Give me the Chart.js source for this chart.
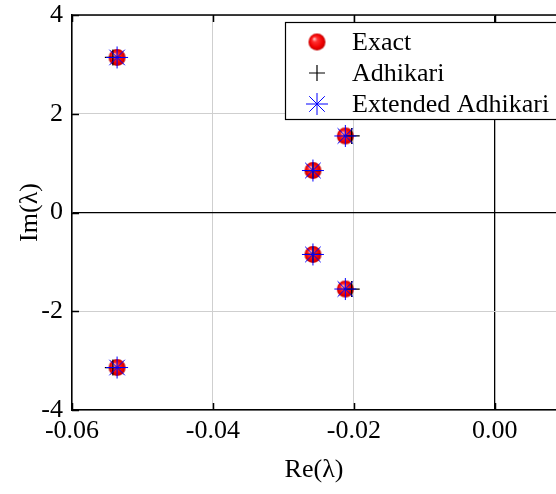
<!DOCTYPE html>
<html>
<head>
<meta charset="utf-8">
<script src="https://cdn.jsdelivr.net/npm/chart.js@4/dist/chart.umd.min.js"></script>
<style>
  html, body { margin: 0; padding: 0; background: #fff; }
  canvas { display: block; }
</style>
</head>
<body>
<canvas id="eig" width="556" height="494"></canvas>
<script>
// Eigenvalue locations (real and imaginary parts)
const exactRe    = [-0.0536, -0.0536, -0.0258, -0.0258, -0.0212, -0.0212];
const exactIm    = [3.14, -3.14, 0.85, -0.85, 1.55, -1.55];
const adhikariRe = [-0.0542, -0.0542, -0.0258, -0.0258, -0.0203, -0.0203];
const adhikariIm = [3.14, -3.14, 0.85, -0.85, 1.55, -1.55];
const extendedRe = [-0.0536, -0.0536, -0.0258, -0.0258, -0.0212, -0.0212];
const extendedIm = [3.14, -3.14, 0.85, -0.85, 1.55, -1.55];

const seriesNames = ['Exact', 'Adhikari', 'Extended Adhikari'];
const xTickValues = [-0.06, -0.04, -0.02, 0.00];
const yTickValues = [-4, -2, 0, 2, 4];
const xRange = [-0.06, 0.0087];
const yRange = [-4, 4];

const FONT = "'Liberation Serif', 'Times New Roman', serif";
const FSIZE = 26;

function pts(xs, ys) { return xs.map((x, i) => ({ x: x, y: ys[i] })); }

// Shaded red sphere used as the marker for the exact values
function sphere(r) {
  const c = document.createElement('canvas');
  const s = Math.ceil(2 * r + 2);
  c.width = s; c.height = s;
  const g = c.getContext('2d');
  const cx = s / 2, cy = s / 2;
  const grad = g.createRadialGradient(cx - r * 0.35, cy - r * 0.4, 0, cx, cy, r);
  grad.addColorStop(0, '#ffe0e0');
  grad.addColorStop(0.3, '#ff3030');
  grad.addColorStop(0.75, '#f00000');
  grad.addColorStop(1, '#c00000');
  g.fillStyle = grad;
  g.beginPath(); g.arc(cx, cy, r, 0, Math.PI * 2); g.fill();
  return c;
}
const ball = sphere(8.5);

const datasets = [
  { label: seriesNames[0], data: pts(exactRe, exactIm), pointStyle: ball, pointRadius: 8.5,
    borderColor: '#ff0000', backgroundColor: '#ff0000', order: 3 },
  { label: seriesNames[1], data: pts(adhikariRe, adhikariIm), pointStyle: 'cross', pointRadius: 8,
    borderColor: '#000000', backgroundColor: '#000000', pointBorderWidth: 1.2, order: 2 },
  { label: seriesNames[2], data: pts(extendedRe, extendedIm), pointStyle: 'star', pointRadius: 11,
    borderColor: '#0000ff', backgroundColor: '#0000ff', pointBorderWidth: 1, order: 1 }
];

const isZero = v => Math.abs(v) < 1e-9;

// Frame top edge and inward tick marks
const frameTicks = {
  id: 'frameTicks',
  beforeDatasetsDraw(chart) {
    const { ctx, chartArea: a, scales: { x, y } } = chart;
    const len = 7;
    ctx.save();
    ctx.strokeStyle = '#000';
    ctx.lineWidth = 1.5;
    ctx.beginPath();
    ctx.moveTo(a.left, a.top); ctx.lineTo(a.right + 2, a.top);
    xTickValues.forEach(v => {
      const px = Math.round(x.getPixelForValue(v)) + 0.5;
      ctx.moveTo(px, a.top); ctx.lineTo(px, a.top + len);
      ctx.moveTo(px, a.bottom); ctx.lineTo(px, a.bottom - len);
    });
    yTickValues.forEach(v => {
      const py = Math.round(y.getPixelForValue(v)) + 0.5;
      ctx.moveTo(a.left, py); ctx.lineTo(a.left + len, py);
    });
    ctx.stroke();
    ctx.restore();
  }
};

// Boxed legend in the upper right
const boxLegend = {
  id: 'boxLegend',
  afterDatasetsDraw(chart) {
    const { ctx } = chart;
    const left = 285, top = 22, bottom = 119;
    ctx.save();
    ctx.fillStyle = '#fff';
    ctx.fillRect(left, top, 300, bottom - top);
    ctx.strokeStyle = '#000';
    ctx.lineWidth = 1.2;
    ctx.strokeRect(left + 0.5, top + 0.5, 300, bottom - top);
    const rows = [42, 73, 104];
    chart.data.datasets.forEach((ds, i) => {
      const cy = rows[i];
      ctx.strokeStyle = ds.borderColor;
      ctx.fillStyle = ds.backgroundColor;
      ctx.lineWidth = ds.pointBorderWidth || 1;
      Chart.helpers.drawPoint(ctx, { pointStyle: ds.pointStyle, radius: ds.pointRadius, rotation: 0, borderWidth: ds.pointBorderWidth || 1 }, 317, cy);
      ctx.fillStyle = '#000';
      ctx.font = FSIZE + 'px ' + FONT;
      ctx.textBaseline = 'middle';
      ctx.textAlign = 'left';
      ctx.fillText(ds.label, 352, cy + 1);
    });
    ctx.restore();
  }
};

new Chart(document.getElementById('eig'), {
  type: 'scatter',
  data: { datasets: datasets },
  options: {
    responsive: false,
    animation: false,
    devicePixelRatio: 1,
    layout: { autoPadding: false, padding: { top: 15, left: 0, right: 0, bottom: 0 } },
    plugins: { legend: { display: false }, tooltip: { enabled: false } },
    scales: {
      x: {
        type: 'linear', min: xRange[0], max: xRange[1],
        afterBuildTicks: s => { s.ticks = xTickValues.map(v => ({ value: v })); },
        afterFit: s => { s.height = 84; s.paddingLeft = 0; s.paddingRight = 0; },
        ticks: {
          color: '#000', padding: 6, maxRotation: 0, autoSkip: false,
          font: { family: FONT, size: FSIZE },
          callback: v => Number(v).toFixed(2)
        },
        grid: {
          drawTicks: false,
          color: c => (c.tick && isZero(c.tick.value)) ? '#000' : '#cfcfcf',
          lineWidth: c => (c.tick && isZero(c.tick.value)) ? 1.3 : 1
        },
        border: { display: true, color: '#000', width: 1.5 },
        title: { display: true, text: 'Re(λ)', color: '#000',
                 font: { family: FONT, size: FSIZE }, padding: { top: 0, bottom: 8 } }
      },
      y: {
        type: 'linear', min: yRange[0], max: yRange[1],
        afterBuildTicks: s => { s.ticks = yTickValues.map(v => ({ value: v })); },
        afterFit: s => { s.width = 72; s.paddingTop = 0; s.paddingBottom = 0; },
        ticks: {
          color: '#000', padding: 9,
          font: { family: FONT, size: FSIZE },
          callback: v => String(v)
        },
        grid: {
          drawTicks: false,
          color: c => (c.tick && isZero(c.tick.value)) ? '#000' : '#cfcfcf',
          lineWidth: c => (c.tick && isZero(c.tick.value)) ? 1.3 : 1
        },
        border: { display: true, color: '#000', width: 1.5 },
        title: { display: true, text: 'Im(λ)', color: '#000',
                 font: { family: FONT, size: FSIZE }, padding: { top: 15, bottom: 0 } }
      }
    }
  },
  plugins: [frameTicks, boxLegend]
});
</script>
</body>
</html>
